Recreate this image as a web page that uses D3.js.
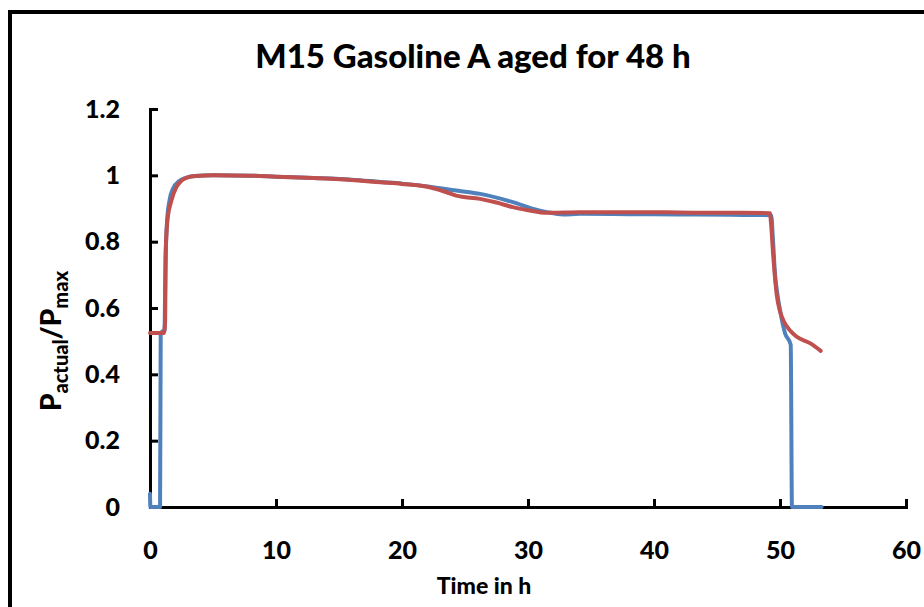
<!DOCTYPE html>
<html>
<head>
<meta charset="utf-8">
<script src="https://cdn.jsdelivr.net/npm/d3@7"></script>
<style>
  html, body { margin: 0; padding: 0; background: #fff; }
  svg { display: block; font-family: Lato, "Open Sans", sans-serif; font-weight: 900; }
</style>
</head>
<body>
<div id="chart"></div>
<script>
// waktu (h) dan P_actual/P_max
const blueSeries = [
  [0, 0.04], [0.03, 0], [0.8, 0], [0.85, 0.52], [1.0, 0.53], [1.15, 0.53],
  [1.22, 0.72], [1.35, 0.86], [1.55, 0.925], [1.85, 0.962], [2.3, 0.982],
  [2.8, 0.992], [3.5, 0.998], [5, 1.0], [8, 0.999], [10, 0.996], [13, 0.992],
  [16, 0.987], [18.3, 0.98], [20, 0.975], [22.2, 0.966], [24.3, 0.954],
  [26.2, 0.944], [28.8, 0.919], [30.5, 0.898], [31.5, 0.889], [32.8, 0.882],
  [34.1, 0.884], [38, 0.883], [42, 0.882], [46, 0.881], [49.3, 0.88],
  [49.45, 0.8], [49.6, 0.704], [49.8, 0.64], [50.0, 0.594], [50.4, 0.524],
  [50.85, 0.489], [50.95, 0], [53.3, 0]
];
const redSeries = [
  [0, 0.525], [1.1, 0.525], [1.2, 0.56], [1.25, 0.77], [1.4, 0.87],
  [1.7, 0.924], [2.1, 0.965], [2.5, 0.984], [3.0, 0.994], [3.7, 0.998],
  [5, 1.0], [8, 0.999], [10, 0.996], [13, 0.992], [16, 0.986], [18.3, 0.979],
  [20, 0.974], [22.2, 0.964], [23.3, 0.952], [24.3, 0.939], [26.2, 0.929],
  [27.5, 0.918], [28.8, 0.904], [30, 0.895], [31.5, 0.887], [34.1, 0.889],
  [38, 0.889], [42, 0.888], [45, 0.887], [47, 0.887], [49.2, 0.886],
  [49.3, 0.85], [49.47, 0.754], [49.74, 0.64], [50.0, 0.59], [50.3, 0.56],
  [50.8, 0.532], [51.3, 0.514], [52.38, 0.494], [53.23, 0.471]
];
const xTicks = [0, 10, 20, 30, 40, 50, 60];
const yTicks = [0, 0.2, 0.4, 0.6, 0.8, 1, 1.2];
const titleText = "M15 Gasoline A aged for 48 h";
const xTitle = "Time in h";

const W = 924, H = 607;
const m = { l: 150, r: 18, t: 109, b: 100 };

const svg = d3.select("#chart").append("svg")
  .attr("width", W).attr("height", H);

// bingkai grafik (sisi kanan & bawah di luar gambar)
svg.append("rect")
  .attr("x", 10).attr("y", 12).attr("width", W + 20).attr("height", H + 20)
  .attr("fill", "#fff").attr("stroke", "#000").attr("stroke-width", 4);

const x = d3.scaleLinear().domain([0, 60]).range([m.l, W - m.r]);
const y = d3.scaleLinear().domain([0, 1.2]).range([H - m.b, m.t]);

// judul
svg.append("text")
  .attr("x", 473).attr("y", 68)
  .attr("text-anchor", "middle")
  .style("font-size", "33px")
  .text(titleText);

const tickFont = sel => sel.style("font-size", "25px")
  .style("font-family", "Lato, 'Open Sans', sans-serif").style("font-weight", 900);

// sumbu x
const gx = svg.append("g").attr("transform", `translate(0,${y(0)})`)
  .call(d3.axisBottom(x).tickValues(xTicks).tickSize(-8).tickPadding(34).tickFormat(d3.format("d")));
gx.select(".domain").attr("stroke-width", 3);
gx.selectAll(".tick line").attr("stroke-width", 3);
gx.selectAll(".tick text").call(tickFont);

// sumbu y
const gy = svg.append("g").attr("transform", `translate(${x(0)},0)`)
  .call(d3.axisLeft(y).tickValues(yTicks).tickSize(-8).tickPadding(30).tickFormat(d => String(+d.toFixed(1))));
gy.select(".domain").attr("stroke-width", 3);
gy.selectAll(".tick line").attr("stroke-width", 3);
gy.selectAll(".tick text").call(tickFont);

// judul sumbu x
svg.append("text")
  .attr("x", 484).attr("y", 594)
  .attr("text-anchor", "middle")
  .style("font-size", "23px")
  .text(xTitle);

// judul sumbu y dengan subskrip
const yl = svg.append("text")
  .attr("transform", "translate(61,341) rotate(-90)")
  .attr("text-anchor", "middle")
  .style("font-size", "28px");
yl.append("tspan").text("P");
yl.append("tspan").attr("dy", 7).style("font-size", "20px").text("actual");
yl.append("tspan").attr("dy", -7).text("/P");
yl.append("tspan").attr("dy", 7).style("font-size", "20px").text("max");

// garis data
const line = d3.line().x(d => x(d[0])).y(d => y(d[1])).curve(d3.curveMonotoneX);
svg.append("path").datum(blueSeries)
  .attr("d", line).attr("fill", "none")
  .attr("stroke", "#4F81BD").attr("stroke-width", 4)
  .attr("stroke-linejoin", "round").attr("stroke-linecap", "round");
svg.append("path").datum(redSeries)
  .attr("d", line).attr("fill", "none")
  .attr("stroke", "#C0504D").attr("stroke-width", 4)
  .attr("stroke-linejoin", "round").attr("stroke-linecap", "round");
</script>
</body>
</html>
